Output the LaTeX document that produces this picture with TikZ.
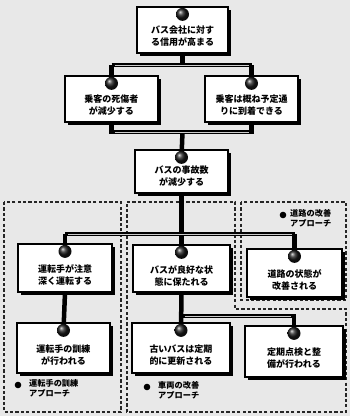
\documentclass[tikz,border=0pt]{standalone}
\usepackage{fontspec}
\newfontfamily\cjk{Noto Sans CJK JP}
\usetikzlibrary{shadows,calc}
\tikzset{
  box/.style={draw=black, line width=1.3pt, fill=white, inner sep=0pt,
    drop shadow={shadow xshift=2.6pt, shadow yshift=-2.6pt, fill=black, opacity=1}},
  txt/.style={align=center, inner sep=0pt, font=\cjk\bfseries\fontsize{9}{12}\selectfont},
  lbl/.style={align=left, inner sep=0pt, anchor=north west, font=\cjk\bfseries\fontsize{8.2}{10.5}\selectfont},
  ball/.style={circle, inner sep=0pt, minimum size=13pt, ball color=black!90, shading=ball},
  conn/.style={line width=4.5pt, black},
  bar/.style={line width=0.6pt, white!80!black},
  zone/.style={line width=1.4pt, black!85, dash pattern=on 3.2pt off 2.2pt}
}
\begin{document}
\begin{tikzpicture}[x=1pt,y=-1pt]
\useasboundingbox (0,0) rectangle (350,416);
\fill[black!9] (0,0) rectangle (350,416);

% zones
\draw[zone] (4,202) rectangle (121,412);
\draw[zone] (127,202) -- (235,202) -- (235,309) -- (346,309) -- (346,412) -- (127,412) -- cycle;
\draw[zone] (241,202) rectangle (346,300);

% boxes
\node[box, minimum width=91pt, minimum height=46pt] (b1) at (182.5,30) {};
\node[box, minimum width=93pt, minimum height=46pt] (b2) at (111.5,99) {};
\node[box, minimum width=93pt, minimum height=46pt] (b3) at (251.5,99) {};
\node[box, minimum width=93pt, minimum height=43pt] (b4) at (181.5,171.5) {};
\node[box, minimum width=94pt, minimum height=48pt] (b5) at (65,268) {};
\node[box, minimum width=97pt, minimum height=47pt] (b6) at (181.5,268.5) {};
\node[box, minimum width=95pt, minimum height=48pt] (b7) at (294.5,273) {};
\node[box, minimum width=93pt, minimum height=50pt] (b8) at (63.5,348) {};
\node[box, minimum width=98pt, minimum height=50pt] (b9) at (181,348) {};
\node[box, minimum width=98pt, minimum height=51pt] (b10) at (294,351.5) {};

% ball positions
\foreach \b in {b1,b2,b3,b4,b5,b6,b7,b8,b9,b10}{
  \coordinate (\b k) at ($(\b.north)+(0,8)$);
}

% connectors
\coordinate (j1) at (182.5,65);
\coordinate (j2) at (182.5,132);
\coordinate (j3) at (181.5,234);
\coordinate (j4) at (181.5,316);
\draw[conn] (b1.south) -- (j1);
\draw[conn] (b2k |- j1) -- (b3k |- j1);
\draw[conn] (b2k |- j1) -- (b2k);
\draw[conn] (b3k |- j1) -- (b3k);
\draw[conn] (b2.south) -- (b2.south |- j2) -- (b3.south |- j2) -- (b3.south);
\draw[conn] (j2) -- (b4k);
\draw[conn] (b4.south) -- (j3);
\draw[conn] (b5k |- j3) -- (b7k |- j3);
\draw[conn] (b5k |- j3) -- (b5k);
\draw[conn] (b6k |- j3) -- (b6k);
\draw[conn] (b7k |- j3) -- (b7k);
\draw[conn] (b5.south) -- (b8k);
\draw[conn] (b6.south) -- (b9k);
\draw[conn] (j4) -- (b10k |- j4) -- (b10k);
% light stripes inside the bars
\draw[bar] ($(b2k |- j1)+(3,0)$) -- ($(b3k |- j1)+(-3,0)$);
\draw[bar] ($(b2.south |- j2)+(3,0)$) -- ($(b3.south |- j2)+(-3,0)$);
\draw[bar] ($(b5k |- j3)+(3,0)$) -- ($(b7k |- j3)+(-3,0)$);
\draw[bar] ($(j4)+(3,0)$) -- ($(b10k |- j4)+(-3,0)$);

% balls
\foreach \b in {b1,b2,b3,b4,b5,b6,b7,b8,b9,b10}{
  \node[ball] (\b ball) at (\b k) {};
}

% texts
\node[txt] (t1) at ($(b1)+(0,6)$) {バス会社に対す\\る信用が高まる};
\node[txt] (t2) at ($(b2)+(0,6)$) {乗客の死傷者\\が減少する};
\node[txt] (t3) at ($(b3)+(0,6)$) {乗客は概ね予定通\\りに到着できる};
\node[txt] (t4) at ($(b4)+(0,5)$) {バスの事故数\\が減少する};
\node[txt] (t5) at ($(b5)+(0,7)$) {運転手が注意\\深く運転する};
\node[txt] (t6) at ($(b6)+(0,7)$) {バスが良好な状\\態に保たれる};
\node[txt] (t7) at ($(b7)+(0,7)$) {道路の状態が\\改善される};
\node[txt] (t8) at ($(b8)+(0,7)$) {運転手の訓練\\が行われる};
\node[txt] (t9) at ($(b9)+(0,7)$) {古いバスは定期\\的に更新される};
\node[txt] (t10) at ($(b10)+(0,7)$) {定期点検と整\\備が行われる};

% zone labels
\fill[black] (283,215) circle (3.3pt) coordinate (d1);
\node[lbl] (l1) at (290,209) {道路の改善\\アプローチ};
\fill[black] (18,385) circle (3.3pt) coordinate (d2);
\node[lbl] (l2) at (29,379) {運転手の訓練\\アプローチ};
\fill[black] (147,387) circle (3.3pt) coordinate (d3);
\node[lbl] (l3) at (158,381) {車両の改善\\アプローチ};
\end{tikzpicture}
\end{document}
